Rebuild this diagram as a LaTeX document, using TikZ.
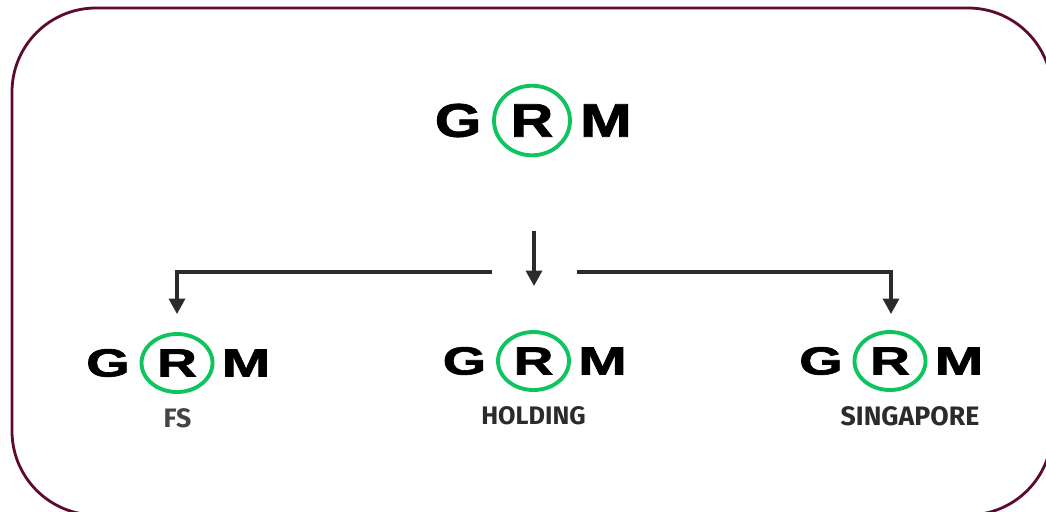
\documentclass[tikz,border=0pt]{standalone}
\usepackage{fontspec}
\setmainfont{Liberation Sans}[BoldFeatures={FakeBold=1.6}]
\newfontfamily\labelfont{Fira Sans}
\usetikzlibrary{arrows.meta}
\definecolor{frameclr}{HTML}{5C0A30}
\definecolor{ringclr}{HTML}{0FC45F}
\definecolor{linkclr}{HTML}{2B2B2B}
\definecolor{softclr}{HTML}{444444}
\tikzset{
  x=0.75pt,y=-0.75pt,
  frameline/.style={draw=frameclr,line width=2.1pt},
  ring/.style={draw=ringclr,line width=2.9pt},
  letter/.style={inner sep=0pt,outer sep=0pt,anchor=center,font=\bfseries\fontsize{29.5}{30}\selectfont,transform shape},
  link/.style={draw=linkclr,line width=2.3pt},
  linkarrow/.style={link,-{Triangle[width=12pt,length=11.5pt]}},
  tag/.style={inner sep=0pt,text=linkclr,font=\labelfont\bfseries\fontsize{19}{20}\selectfont},
}
% name, cx, cy, x-scale, y-scale
\newcommand{\grmlogo}[5]{%
  \begin{scope}[shift={(#2,#3)},xscale=#4,yscale=#5]
    \draw[ring] (0,0) ellipse [x radius=35.5,y radius=29];
    \node[letter,xscale=1.42] (#1g) at (-69,0) {G};
    \node[letter,xscale=1.40] (#1r) at (0,0) {R};
    \node[letter,xscale=1.48] (#1m) at (69,0) {M};
  \end{scope}}
\begin{document}
\begin{tikzpicture}
\useasboundingbox (0,0) rectangle (1046,511);
\clip (0,0) rectangle (1046,511);
\fill[white] (0,0) rectangle (1046,511);
\draw[frameline,rounded corners=63pt] (12,8) rectangle (1052,515);
\grmlogo{top}{532}{120.5}{1.07}{1.2}
\grmlogo{fs}{177}{363}{1}{1}
\grmlogo{hold}{533.5}{361}{1}{1}
\grmlogo{sing}{890}{361}{1}{1}
\node[tag,text=softclr,font=\labelfont\fontsize{20}{20}\selectfont\bfseries] (fslabel) at (177.5,418.5) {FS};
\node[tag] (holdlabel) at (533.5,416) {HOLDING};
\node[tag,font=\labelfont\bfseries\fontsize{20}{20}\selectfont] (singlabel) at (910,416) {SINGAPORE};
\coordinate (leftstart) at (492,272);
\coordinate (leftend) at (177,314);
\coordinate (midstart) at (534,231);
\coordinate (midend) at (534,286);
\coordinate (rightstart) at (577,272);
\coordinate (rightend) at (891,314);
\draw[linkarrow] (leftstart) -| (leftend);
\draw[linkarrow] (midstart) -- (midend);
\draw[linkarrow] (rightstart) -| (rightend);
\end{tikzpicture}
\end{document}
